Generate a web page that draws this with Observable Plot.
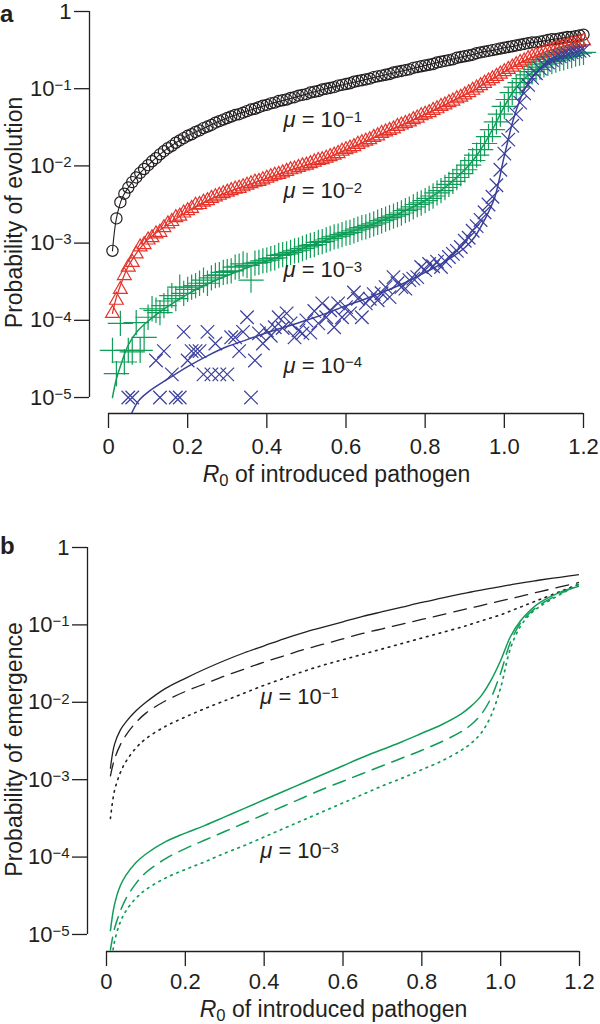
<!DOCTYPE html>
<html><head><meta charset="utf-8">
<script src="https://cdn.jsdelivr.net/npm/d3@7"></script>
<script src="https://cdn.jsdelivr.net/npm/@observablehq/plot@0.6"></script>
<style>
body{margin:0;background:#fff;}
#chart{width:600px;}
#chart svg{display:block;}
</style></head><body><div id="chart"></div>
<script>
// ---------- DATA (probabilities stored as log10 values) ----------
// Panel a: simulation points, R0 of introduced pathogen
const r0Sim = [0.01,0.02,0.03,0.04,0.05,0.06,0.07,0.08,0.09,0.10,0.11,0.12,0.13,0.14,0.15,0.16,0.17,0.18,0.19,0.20,
0.21,0.22,0.23,0.24,0.25,0.26,0.27,0.28,0.29,0.30,0.31,0.32,0.33,0.34,0.35,0.36,0.37,0.38,0.39,0.40,
0.41,0.42,0.43,0.44,0.45,0.46,0.47,0.48,0.49,0.50,0.51,0.52,0.53,0.54,0.55,0.56,0.57,0.58,0.59,0.60,
0.61,0.62,0.63,0.64,0.65,0.66,0.67,0.68,0.69,0.70,0.71,0.72,0.73,0.74,0.75,0.76,0.77,0.78,0.79,0.80,
0.81,0.82,0.83,0.84,0.85,0.86,0.87,0.88,0.89,0.90,0.91,0.92,0.93,0.94,0.95,0.96,0.97,0.98,0.99,1.00,
1.01,1.02,1.03,1.04,1.05,1.06,1.07,1.08,1.09,1.10,1.11,1.12,1.13,1.14,1.15,1.16,1.17,1.18,1.19,1.20];

const simMu1 = [-3.10,-2.68,-2.47,-2.36,-2.28,-2.21,-2.15,-2.09,-2.04,-1.99,-1.94,-1.90,-1.85,-1.81,-1.77,-1.74,-1.70,-1.67,-1.64,-1.61,
-1.59,-1.56,-1.54,-1.51,-1.49,-1.47,-1.44,-1.42,-1.40,-1.38,-1.36,-1.34,-1.33,-1.31,-1.29,-1.27,-1.26,-1.24,-1.22,-1.21,
-1.19,-1.18,-1.16,-1.15,-1.14,-1.12,-1.11,-1.09,-1.08,-1.07,-1.05,-1.04,-1.03,-1.01,-1.00,-0.99,-0.98,-0.96,-0.95,-0.94,
-0.93,-0.91,-0.90,-0.89,-0.88,-0.87,-0.85,-0.84,-0.83,-0.82,-0.81,-0.79,-0.78,-0.77,-0.76,-0.75,-0.73,-0.72,-0.71,-0.70,
-0.69,-0.68,-0.66,-0.65,-0.64,-0.63,-0.62,-0.60,-0.59,-0.58,-0.57,-0.56,-0.54,-0.53,-0.52,-0.51,-0.50,-0.49,-0.48,-0.47,
-0.46,-0.45,-0.44,-0.43,-0.42,-0.41,-0.40,-0.40,-0.39,-0.38,-0.37,-0.36,-0.36,-0.35,-0.34,-0.33,-0.33,-0.32,-0.31,-0.30];

const simMu2 = [-3.91,-3.74,-3.60,-3.42,-3.31,-3.25,-3.14,-3.05,-3.02,-2.96,-2.93,-2.88,-2.86,-2.80,-2.75,-2.72,-2.67,-2.65,-2.61,-2.58,
-2.55,-2.51,-2.50,-2.47,-2.45,-2.42,-2.40,-2.38,-2.36,-2.34,-2.32,-2.30,-2.29,-2.27,-2.25,-2.23,-2.21,-2.20,-2.18,-2.16,
-2.14,-2.12,-2.11,-2.09,-2.07,-2.05,-2.04,-2.02,-2.00,-1.99,-1.97,-1.95,-1.93,-1.92,-1.90,-1.88,-1.86,-1.84,-1.81,-1.79,
-1.77,-1.75,-1.72,-1.70,-1.68,-1.66,-1.63,-1.61,-1.58,-1.56,-1.54,-1.52,-1.49,-1.47,-1.45,-1.43,-1.40,-1.38,-1.35,-1.33,
-1.31,-1.28,-1.26,-1.23,-1.21,-1.18,-1.16,-1.13,-1.11,-1.08,-1.05,-1.02,-0.99,-0.96,-0.93,-0.90,-0.87,-0.84,-0.81,-0.78,
-0.75,-0.72,-0.69,-0.66,-0.64,-0.61,-0.59,-0.57,-0.55,-0.53,-0.51,-0.50,-0.48,-0.47,-0.45,-0.44,-0.42,-0.41,-0.40,-0.38];

const simMu3 = [-4.39,-4.69,-4.04,-4.54,-4.39,-4.41,-4.03,-4.39,-4.22,-3.96,-3.85,-3.87,-3.90,-3.81,-3.75,-3.68,-3.72,-3.57,-3.65,-3.60,
-3.57,-3.55,-3.52,-3.48,-3.52,-3.45,-3.42,-3.41,-3.38,-3.37,-3.36,-3.31,-3.30,-3.27,-3.29,-3.48,-3.26,-3.25,-3.23,-3.22,
-3.20,-3.19,-3.16,-3.15,-3.14,-3.12,-3.10,-3.09,-3.07,-3.05,-3.03,-3.02,-2.99,-2.98,-2.96,-2.94,-2.92,-2.91,-2.89,-2.87,
-2.86,-2.84,-2.82,-2.80,-2.79,-2.77,-2.75,-2.73,-2.71,-2.69,-2.67,-2.65,-2.63,-2.61,-2.58,-2.56,-2.53,-2.50,-2.48,-2.45,
-2.42,-2.39,-2.35,-2.32,-2.28,-2.24,-2.20,-2.15,-2.10,-2.05,-1.99,-1.93,-1.86,-1.79,-1.71,-1.62,-1.53,-1.43,-1.33,-1.23,
-1.14,-1.05,-0.98,-0.92,-0.87,-0.82,-0.78,-0.75,-0.72,-0.69,-0.67,-0.65,-0.63,-0.61,-0.60,-0.58,-0.57,-0.55,-0.54,-0.53];

const simMu4 = [null,null,null,null,-5.00,-5.00,null,null,null,null,null,-4.52,-5.00,-4.40,null,-4.70,-5.00,-5.00,-4.15,-4.52,
-4.40,-4.40,-4.40,-4.70,-4.15,-4.70,-4.30,-4.70,null,-4.70,-4.22,-4.22,-4.40,-4.15,-3.96,-5.00,-4.52,-4.17,-4.30,-4.13,
-4.20,-4.09,-3.96,-4.10,-3.91,-4.04,-4.22,-4.13,-4.17,-4.00,-4.16,-3.88,-4.04,-3.78,-3.96,-3.87,-4.09,-3.78,-3.96,-3.83,
-3.91,-3.64,-3.72,-3.96,-3.78,-3.72,-3.66,-3.74,-3.65,-3.57,-3.70,-3.44,-3.52,-3.57,-3.59,-3.48,-3.46,-3.44,-3.31,-3.35,
-3.27,-3.30,-3.24,-3.31,-3.23,-3.18,-3.14,-3.10,-3.05,-2.97,-2.93,-2.84,-2.78,-2.70,-2.60,-2.50,-2.40,-2.25,-2.05,-1.84,
-1.66,-1.48,-1.33,-1.18,-1.06,-0.95,-0.86,-0.80,-0.74,-0.69,-0.66,-0.63,-0.60,-0.58,-0.56,-0.55,-0.53,-0.52,-0.51,-0.50];

// Curves (both panels) read at these R0 values
const r0Curve = [0.01,0.02,0.035,0.05,0.075,0.1,0.15,0.2,0.25,0.3,0.35,0.4,0.45,0.5,0.55,0.6,0.65,0.7,0.75,0.8,0.85,0.9,0.925,0.95,0.975,1.0,1.025,1.05,1.075,1.1,1.15,1.2];
// Panel a fitted curves
const fitMu1 = [-3.10,-2.68,-2.41,-2.28,-2.12,-1.99,-1.77,-1.61,-1.49,-1.38,-1.29,-1.21,-1.14,-1.07,-1.00,-0.94,-0.88,-0.82,-0.76,-0.70,-0.64,-0.58,-0.55,-0.52,-0.50,-0.47,-0.45,-0.42,-0.40,-0.38,-0.34,-0.30];
const fitMu2 = [-3.91,-3.70,-3.48,-3.30,-3.10,-2.95,-2.76,-2.59,-2.45,-2.34,-2.25,-2.16,-2.07,-1.99,-1.90,-1.79,-1.68,-1.56,-1.45,-1.33,-1.21,-1.08,-1.02,-0.93,-0.86,-0.78,-0.71,-0.64,-0.58,-0.53,-0.45,-0.38];
const fitMu3 = [-5.00,-4.76,-4.52,-4.32,-4.13,-4.01,-3.82,-3.66,-3.53,-3.42,-3.32,-3.23,-3.14,-3.05,-2.96,-2.87,-2.79,-2.69,-2.58,-2.45,-2.28,-2.05,-1.90,-1.71,-1.48,-1.23,-1.02,-0.87,-0.77,-0.69,-0.60,-0.54];
const fitMu4 = [null,null,null,-5.30,-5.05,-4.93,-4.76,-4.60,-4.46,-4.34,-4.25,-4.16,-4.08,-4.00,-3.91,-3.81,-3.72,-3.62,-3.51,-3.38,-3.24,-3.06,-2.92,-2.70,-2.42,-1.87,-1.36,-1.02,-0.82,-0.70,-0.58,-0.49];
// Panel b: probability of emergence
const emMu1Solid  = [-2.85,-2.55,-2.36,-2.25,-2.11,-2.00,-1.82,-1.69,-1.57,-1.46,-1.36,-1.27,-1.18,-1.10,-1.03,-0.96,-0.89,-0.83,-0.77,-0.71,-0.655,-0.60,-0.575,-0.55,-0.527,-0.505,-0.482,-0.46,-0.44,-0.42,-0.385,-0.35];
const emMu1Dashed = [-2.95,-2.74,-2.55,-2.42,-2.26,-2.14,-1.98,-1.86,-1.76,-1.66,-1.57,-1.48,-1.40,-1.32,-1.25,-1.18,-1.11,-1.05,-0.99,-0.93,-0.87,-0.81,-0.78,-0.75,-0.72,-0.69,-0.66,-0.63,-0.60,-0.57,-0.51,-0.45];
const emMu1Dotted = [-3.50,-3.15,-2.91,-2.76,-2.59,-2.47,-2.31,-2.19,-2.08,-1.98,-1.88,-1.78,-1.69,-1.60,-1.52,-1.45,-1.38,-1.31,-1.24,-1.17,-1.10,-1.03,-0.99,-0.95,-0.91,-0.87,-0.82,-0.77,-0.72,-0.67,-0.57,-0.47];
const emMu3Solid  = [-4.95,-4.62,-4.37,-4.23,-4.07,-3.96,-3.80,-3.69,-3.59,-3.48,-3.37,-3.26,-3.15,-3.04,-2.93,-2.82,-2.71,-2.61,-2.51,-2.40,-2.29,-2.15,-2.05,-1.92,-1.72,-1.46,-1.15,-0.95,-0.81,-0.71,-0.58,-0.50];
const emMu3Dashed = [-5.20,-4.93,-4.70,-4.53,-4.34,-4.20,-4.02,-3.89,-3.78,-3.67,-3.56,-3.45,-3.34,-3.23,-3.12,-3.02,-2.92,-2.82,-2.72,-2.62,-2.51,-2.38,-2.29,-2.16,-1.95,-1.62,-1.22,-0.98,-0.84,-0.74,-0.60,-0.48];
const emMu3Dotted = [-5.45,-5.10,-4.84,-4.69,-4.53,-4.42,-4.27,-4.16,-4.06,-3.95,-3.85,-3.74,-3.63,-3.52,-3.41,-3.30,-3.19,-3.08,-2.98,-2.87,-2.76,-2.62,-2.53,-2.40,-2.18,-1.81,-1.30,-1.02,-0.86,-0.76,-0.61,-0.47];

// Axis ticks and labels
const xTicks = [0, 0.2, 0.4, 0.6, 0.8, 1.0, 1.2];
const yTicks = [1, 1e-1, 1e-2, 1e-3, 1e-4, 1e-5];
const muLabelsA = [
  {text: "*μ* = 10^{−1}", r0: 0.442, p: 0.0316},
  {text: "*μ* = 10^{−2}", r0: 0.442, p: 0.0038},
  {text: "*μ* = 10^{−3}", r0: 0.442, p: 0.00036},
  {text: "*μ* = 10^{−4}", r0: 0.442, p: 0.000021}
];
const muLabelsB = [
  {text: "*μ* = 10^{−1}", r0: 0.39, p: 0.0096},
  {text: "*μ* = 10^{−3}", r0: 0.39, p: 0.000096}
];

// ---------- helpers ----------
const FONT = "'Liberation Sans', Arial, Helvetica, sans-serif";
const INK = "#231f20";
const RED = "#e5332a", GREEN = "#0f9d58", BLUE = "#3b3f9c";
const FS = 22, FS_TITLE = 23;
const pts = (xs, logs) => xs.map((r0, i) => ({r0, p: logs[i] == null ? null : 10 ** logs[i]})).filter(d => d.p != null);
const xFmt = d => d === 0 ? "0" : d.toFixed(1);
const yFmt = d => d === 1 ? "1" : `10^{−${Math.round(-Math.log10(d))}}`;

function axes(xMin, yMin, yLabel, labelOffsetY, labelOffsetX, padX) {
  return [
    Plot.ruleX([xMin], {y1: d3.min(yTicks), y2: d3.max(yTicks), stroke: INK, strokeWidth: 1.3}),
    Plot.ruleY([yMin], {x1: d3.min(xTicks), x2: d3.max(xTicks), stroke: INK, strokeWidth: 1.3}),
    Plot.axisY({ticks: yTicks, tickFormat: yFmt, tickSize: 15, tickPadding: 3, strokeWidth: 1.3, fontSize: FS,
      label: yLabel, labelAnchor: "center", labelOffset: labelOffsetY, labelArrow: false}),
    Plot.axisX({ticks: xTicks, tickFormat: xFmt, tickSize: 15, tickPadding: padX, strokeWidth: 1.3, fontSize: FS,
      label: "*R*_{0} of introduced pathogen", labelAnchor: "center", labelOffset: labelOffsetX, labelArrow: false})
  ];
}

function rich(svg) {
  d3.select(svg).selectAll("text").each(function () {
    const el = this;
    if (el.querySelector("tspan")) return;
    const s = el.textContent;
    if (!/[*^_]/.test(s)) return;
    const fs = parseFloat(getComputedStyle(el).fontSize) || FS;
    el.textContent = "";
    const parts = s.split(/(\*[^*]+\*|\^\{[^}]+\}|_\{[^}]+\})/).filter(p => p);
    let shift = 0;
    for (const p of parts) {
      const t = document.createElementNS("http://www.w3.org/2000/svg", "tspan");
      let txt = p, target = 0, size = null, italic = false;
      if (p[0] === "*") { txt = p.slice(1, -1); italic = true; }
      else if (p[0] === "^") { txt = p.slice(2, -1); target = -0.26 * fs; size = 0.68 * fs; }
      else if (p[0] === "_") { txt = p.slice(2, -1); target = 0.18 * fs; size = 0.72 * fs; }
      if (target !== shift) { t.setAttribute("dy", (target - shift).toFixed(2)); shift = target; }
      if (size) t.setAttribute("font-size", size.toFixed(1));
      if (italic) t.setAttribute("font-style", "italic");
      t.textContent = txt;
      el.appendChild(t);
    }
  });
}

function finish(svg, ch, y) {
  // axis titles slightly larger than tick labels
  d3.select(svg).selectAll('g[aria-label="x-axis label"], g[aria-label="y-axis label"]').attr("font-size", FS_TITLE)
    .selectAll("text").attr("font-size", FS_TITLE);
  rich(svg);
  d3.select(svg).append("text").attr("x", 0).attr("y", y).attr("text-anchor", "start")
    .attr("font-weight", "bold").attr("font-size", 24).attr("fill", INK).text(ch);
}

const style = {fontFamily: FONT, fontSize: FS + "px", color: INK, background: "#fff", overflow: "visible"};

// ---------- Panel a ----------
const xMinA = -0.048, yMinA = 10 ** -5.207;
const symA = [
  {logs: simMu1, symbol: "circle", color: INK, r: 5.6},
  {logs: simMu2, symbol: "triangle2", color: RED, r: 6.6},
  {logs: simMu3, symbol: "plus", color: GREEN, r: 8.2},
  {logs: simMu4, symbol: "times", color: BLUE, r: 6.2}
];
const fitsA = [
  {logs: fitMu1, color: INK, w: 1.1},
  {logs: fitMu2, color: RED, w: 1.3},
  {logs: fitMu3, color: GREEN, w: 1.5},
  {logs: fitMu4, color: BLUE, w: 1.5}
];
const markA = [...axes(xMinA, yMinA, "Probability of evolution", 84, 68, 10)];
symA.forEach((s, i) => {
  markA.push(Plot.dot(pts(r0Sim, s.logs), {x: "r0", y: "p", symbol: s.symbol, r: s.r, stroke: s.color, fill: "none", strokeWidth: 1.2}));
  markA.push(Plot.line(pts(r0Curve, fitsA[i].logs), {x: "r0", y: "p", stroke: fitsA[i].color, strokeWidth: fitsA[i].w, curve: "catmull-rom", clip: true}));
});
markA.push(Plot.text(muLabelsA, {x: "r0", y: "p", text: "text", textAnchor: "start", lineAnchor: "bottom", fontSize: FS, fill: INK}));

const plotA = Plot.plot({
  width: 600, height: 512, marginLeft: 89, marginRight: 17, marginTop: 11, marginBottom: 99,
  style,
  x: {domain: [xMinA, 1.2]},
  y: {type: "log", domain: [yMinA, 1]},
  marks: markA
});

// ---------- Panel b ----------
const xMinB = -0.0482, yMinB = 10 ** -5.22;
const curvesB = [
  {logs: emMu1Solid, color: INK, dash: null, w: 1.3},
  {logs: emMu1Dashed, color: INK, dash: "13,8", w: 1.3},
  {logs: emMu1Dotted, color: INK, dash: "1.6,5", w: 1.6},
  {logs: emMu3Solid, color: GREEN, dash: null, w: 1.5},
  {logs: emMu3Dashed, color: GREEN, dash: "13,8", w: 1.5},
  {logs: emMu3Dotted, color: GREEN, dash: "1.6,5", w: 1.7}
];
const markB = [...axes(xMinB, yMinB, "Probability of emergence", 82, 65, 7)];
curvesB.forEach(c => markB.push(Plot.line(pts(r0Curve, c.logs), {x: "r0", y: "p", stroke: c.color, strokeWidth: c.w, strokeDasharray: c.dash, curve: "catmull-rom", clip: true})));
markB.push(Plot.text(muLabelsB, {x: "r0", y: "p", text: "text", textAnchor: "start", lineAnchor: "bottom", fontSize: FS, fill: INK}));

const plotB = Plot.plot({
  width: 600, height: 512, marginLeft: 87, marginRight: 21, marginTop: 35, marginBottom: 73,
  style,
  x: {domain: [xMinB, 1.2]},
  y: {type: "log", domain: [yMinB, 1]},
  marks: markB
});

const host = document.getElementById("chart");
host.append(plotA, plotB);
finish(plotA, "a", 22);
finish(plotB, "b", 42);
</script></body></html>
